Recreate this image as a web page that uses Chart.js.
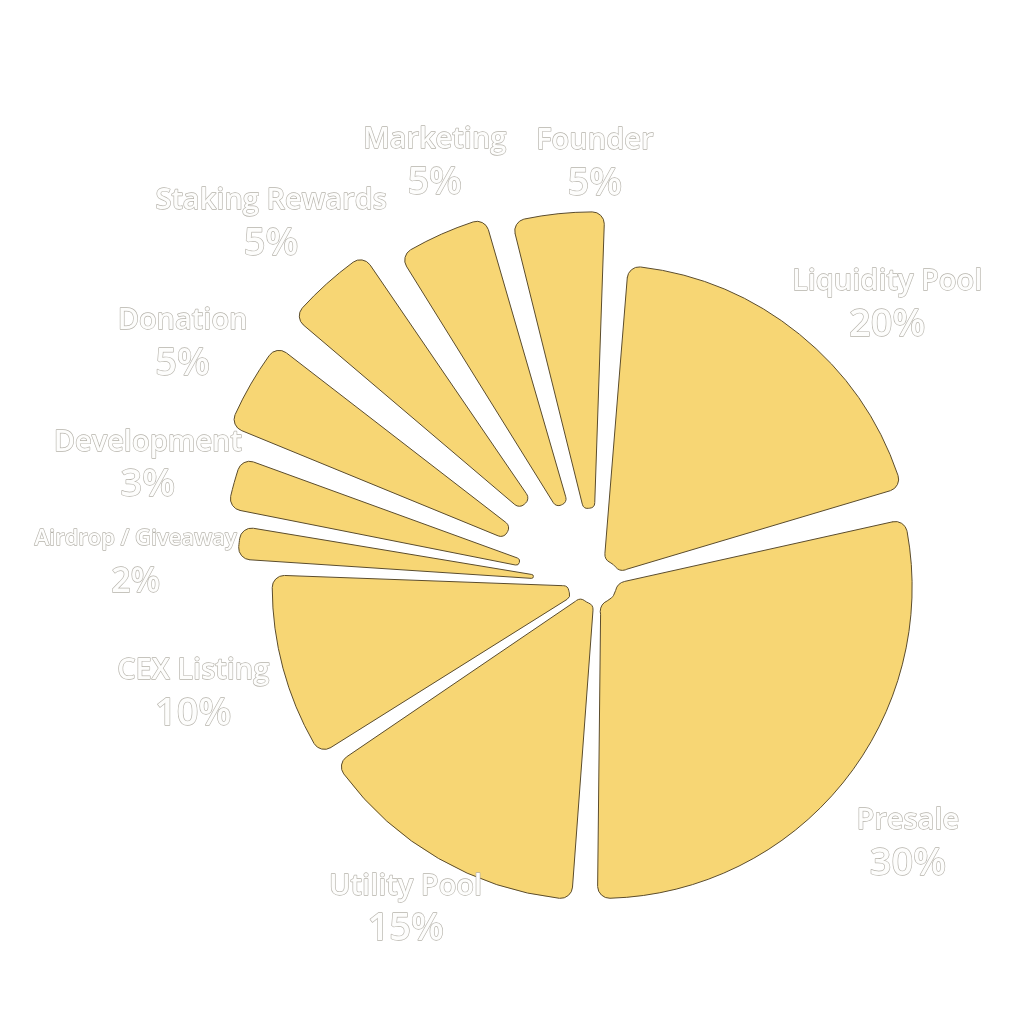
<!DOCTYPE html>
<html>
<head>
<meta charset="utf-8">
<script src="https://cdn.jsdelivr.net/npm/chart.js@4"></script>
<style>
  html, body { margin: 0; padding: 0; background: #fff; }
  #wrap { width: 1024px; height: 1024px; }
</style>
</head>
<body>
<div id="wrap"><canvas id="pie"></canvas></div>
<script>
// token allocation, clockwise from the top
const labels = ['Founder', 'Liquidity Pool', 'Presale', 'Utility Pool', 'CEX Listing',
  'Airdrop / Giveaway', 'Development', 'Donation', 'Staking Rewards', 'Marketing'];
const shares = [5, 20, 30, 15, 10, 2, 3, 5, 5, 5];

// how far each slice is pulled out of the pie
const sliceOffsets = [145, 40, 20, 20, 40, 105, 145, 210, 220, 170];
// label distance from the centre and a small angle nudge (degrees)
const labelDist = [422, 404, 404, 376, 418, 462, 465, 480, 487, 453];
const labelNudge = [5.7, 6.9, 0.7, 0.6, 0, -3.6, -0.6, 0.3, 0, 3];
const nameSizes = [29, 29, 29, 29, 29, 22, 29, 29, 29, 29];

const outlineLabels = {
  id: 'outlineLabels',
  afterDatasetsDraw(chart) {
    const ctx = chart.ctx;
    const arcs = chart.getDatasetMeta(0).data;
    ctx.save();
    ctx.textAlign = 'center';
    ctx.textBaseline = 'middle';
    ctx.lineJoin = 'round';
    ctx.lineWidth = 1.3;
    ctx.strokeStyle = '#b6b3ab';
    ctx.fillStyle = '#fdfdfc';
    arcs.forEach((arc, i) => {
      const mid = (arc.startAngle + arc.endAngle) / 2 + labelNudge[i] * Math.PI / 180;
      const x = arc.x + Math.cos(mid) * labelDist[i];
      const y = arc.y + Math.sin(mid) * labelDist[i];
      ctx.font = '600 ' + nameSizes[i] + 'px "Open Sans"';
      ctx.strokeText(labels[i], x, y - 21);
      ctx.fillText(labels[i], x, y - 21);
      ctx.font = '600 ' + (nameSizes[i] < 29 ? 34 : 38) + 'px "Open Sans"';
      ctx.strokeText(shares[i] + '%', x, y + 22);
      ctx.fillText(shares[i] + '%', x, y + 22);
    });
    ctx.restore();
  }
};

new Chart(document.getElementById('pie'), {
  type: 'doughnut',
  data: {
    labels: labels,
    datasets: [{
      data: shares,
      backgroundColor: '#f7d674',
      borderColor: '#5b4c2c',
      borderWidth: 1,
      borderRadius: 12,
      offset: sliceOffsets,
      spacing: 14,
      radius: 304,
      cutout: 8
    }]
  },
  options: {
    responsive: true,
    maintainAspectRatio: false,
    animation: false,
    rotation: -15,
    layout: { padding: { left: 170, right: 0, top: 144, bottom: 0 } },
    plugins: {
      legend: { display: false },
      tooltip: { enabled: false }
    }
  },
  plugins: [outlineLabels]
});
</script>
</body>
</html>
